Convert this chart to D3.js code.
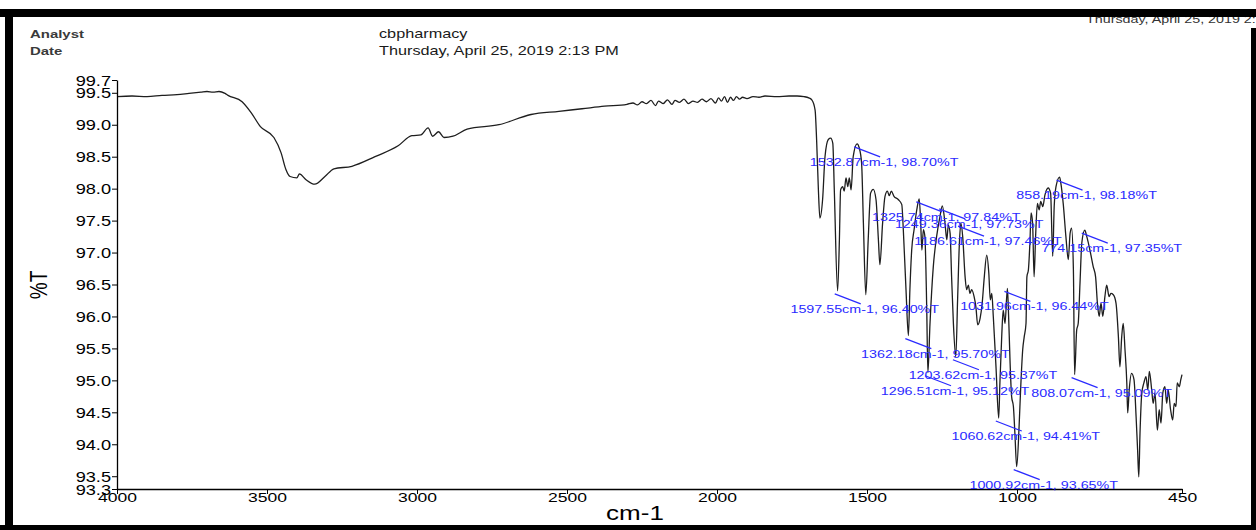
<!DOCTYPE html>
<html>
<head>
<meta charset="utf-8">
<script src="https://cdn.jsdelivr.net/npm/d3@7"></script>
<style>
  html, body { margin: 0; padding: 0; background: #fff; }
  svg { display: block; font-family: "Liberation Sans", Arial, sans-serif; }
</style>
</head>
<body>
<svg id="chart" width="1256" height="530"></svg>
<script>
// ---------------- DATA ----------------
const headerLabels = ["Analyst", "Date"];
const headerValues = ["cbpharmacy", "Thursday, April 25, 2019 2:13 PM"];
const cornerText = "Thursday, April 25, 2019 2:13 PM";

const xTickValues = [4000, 3500, 3000, 2500, 2000, 1500, 1000, 450];
const yTickValues = [99.7, 99.5, 99.0, 98.5, 98.0, 97.5, 97.0, 96.5, 96.0, 95.5, 95.0, 94.5, 94.0, 93.5, 93.3];
const xDomain = [4000, 450];
const yDomain = [93.3, 99.7];
const xTitle = "cm-1";
const yTitle = "%T";

// wavenumber (cm-1)
const wavenumber = [
  4000, 3950, 3900, 3850, 3800, 3760, 3720, 3700, 3680, 3660, 3640, 3630, 3583, 3553, 3522, 3477, 3453, 3437, 3423, 3400,
  3392, 3370, 3341, 3307, 3277, 3217, 3140, 3063, 3017, 2987, 2963, 2948, 2928, 2910, 2880, 2833, 2727, 2620, 2527, 2450,
  2375, 2300, 2280, 2265, 2250, 2235, 2220, 2205, 2195, 2180, 2165, 2150, 2140, 2125, 2110, 2095, 2080, 2065, 2050, 2035,
  2020, 2005, 1995, 1985, 1975, 1965, 1955, 1945, 1935, 1925, 1915, 1900, 1880, 1860, 1840, 1800, 1760, 1733, 1710, 1694,
  1684, 1673, 1668, 1662, 1657, 1648, 1640, 1629, 1621, 1614, 1609, 1598, 1592, 1588, 1581, 1576, 1570, 1564, 1559, 1553,
  1546, 1533, 1526, 1518, 1512, 1504, 1496, 1488, 1479, 1470, 1462, 1457, 1448, 1440, 1432, 1426, 1419, 1410, 1396, 1384,
  1379, 1370, 1362, 1357, 1351, 1343, 1334, 1326, 1321, 1317, 1312, 1307, 1301, 1297, 1290, 1279, 1268, 1257, 1249, 1240,
  1234, 1229, 1223, 1218, 1212, 1204, 1198, 1192, 1187, 1181, 1173, 1168, 1162, 1157, 1151, 1143, 1137, 1131, 1123, 1116,
  1109, 1101, 1094, 1089, 1084, 1079, 1070, 1061, 1057, 1051, 1046, 1040, 1032, 1029, 1023, 1018, 1012, 1007, 1001, 993,
  988, 981, 976, 970, 967, 962, 957, 953, 948, 943, 938, 932, 926, 921, 914, 907, 896, 888, 881, 876,
  870, 858, 854, 846, 837, 829, 823, 818, 812, 808, 801, 796, 790, 784, 774, 768, 757, 746, 738, 732,
  726, 720, 714, 707, 701, 693, 687, 679, 670, 662, 657, 651, 646, 640, 634, 631, 626, 618, 610, 603,
  598, 594, 590, 584, 577, 570, 564, 559, 551, 546, 540, 532, 526, 520, 514, 507, 501, 496, 488, 481,
  476, 470, 466, 459, 454, 450
];
// transmittance (%T)
const transmittance = [
  99.44, 99.45, 99.44, 99.46, 99.47, 99.49, 99.51, 99.52, 99.51, 99.52, 99.49, 99.46, 99.36, 99.19, 98.97, 98.80, 98.56, 98.30, 98.19, 98.17,
  98.23, 98.14, 98.07, 98.19, 98.31, 98.35, 98.50, 98.67, 98.83, 98.84, 98.95, 98.82, 98.89, 98.80, 98.82, 98.93, 99.00, 99.16, 99.21, 99.25,
  99.29, 99.32, 99.34, 99.31, 99.36, 99.33, 99.38, 99.30, 99.37, 99.33, 99.39, 99.32, 99.38, 99.35, 99.40, 99.33, 99.37, 99.35, 99.40, 99.36,
  99.41, 99.34, 99.42, 99.37, 99.44, 99.35, 99.43, 99.38, 99.44, 99.40, 99.43, 99.41, 99.44, 99.43, 99.45, 99.44, 99.45, 99.45, 99.44, 99.42,
  99.39, 99.23, 98.77, 97.98, 97.54, 97.83, 98.50, 98.77, 98.79, 98.71, 97.98, 96.40, 97.20, 97.98, 98.03, 97.96, 98.17, 98.03, 98.17, 97.98,
  98.50, 98.70, 98.64, 98.40, 97.46, 96.34, 97.20, 97.93, 97.99, 97.83, 97.20, 96.81, 97.46, 97.88, 97.96, 97.89, 97.96, 97.88, 97.83, 97.75,
  97.36, 96.42, 95.70, 96.42, 97.04, 97.36, 97.67, 97.84, 97.46, 97.04, 97.36, 97.25, 96.15, 95.12, 95.89, 96.78, 97.25, 97.56, 97.73, 97.46,
  97.20, 97.43, 97.30, 96.62, 95.89, 95.37, 96.26, 97.15, 97.46, 97.25, 96.62, 96.42, 96.49, 96.36, 96.42, 96.31, 96.15, 95.87, 95.97, 96.21,
  96.62, 96.96, 96.68, 96.26, 96.36, 96.00, 95.21, 94.41, 94.96, 95.68, 96.10, 95.89, 96.44, 96.15, 95.27, 94.75, 94.59, 94.17, 93.65, 94.28,
  94.85, 95.48, 95.68, 95.89, 96.62, 96.73, 97.15, 97.62, 97.46, 96.62, 97.25, 97.77, 97.67, 97.80, 97.72, 97.90, 98.01, 97.93, 96.94, 97.72,
  98.03, 98.18, 98.09, 97.77, 97.25, 96.89, 97.30, 97.38, 96.73, 95.09, 95.79, 95.89, 96.52, 97.15, 97.35, 97.26, 97.04, 96.78, 96.62, 96.21,
  96.00, 96.21, 96.00, 96.31, 96.49, 96.31, 96.36, 96.34, 96.21, 95.68, 95.21, 95.68, 95.89, 95.48, 94.96, 94.49, 94.85, 95.11, 95.01, 94.43,
  93.91, 93.49, 94.17, 94.80, 94.96, 95.06, 94.85, 95.14, 94.85, 94.64, 94.80, 94.22, 94.54, 94.33, 94.80, 94.90, 94.64, 94.85, 94.54, 94.38,
  94.64, 94.59, 94.96, 94.90, 95.01, 95.09
];

// peak annotations
const peakWavenumbers = [1532.87, 1325.74, 1249.36, 1186.61, 858.19, 774.15, 1597.55, 1031.96, 1362.18, 1203.62, 1296.51, 808.07, 1060.62, 1000.92];
const peakValues      = [98.70, 97.84, 97.73, 97.46, 98.18, 97.35, 96.40, 96.44, 95.70, 95.37, 95.12, 95.09, 94.41, 93.65];

// ---------------- DRAW ----------------
const svg = d3.select("#chart");
const W = 1256, H = 530;
const SX = 1.3; // horizontal glyph stretch of the original print
const FONT = '"Liberation Sans", Arial, sans-serif';

const x = d3.scaleLinear().domain(xDomain).range([117, 1182]);
const y = d3.scaleLinear().domain(yDomain).range([489, 80]);

// header
const hdr = svg.append("g");
headerLabels.forEach((t, i) => {
  hdr.append("text").attr("transform", `translate(30,${38 + i * 17}) scale(${SX},1)`)
    .attr("font-size", 11.5).attr("font-weight", "bold").attr("fill", "#3a3a3a").text(t);
});
headerValues.forEach((t, i) => {
  hdr.append("text").attr("transform", `translate(379,${38 + i * 17}) scale(${SX},1)`)
    .attr("font-size", 12.5).attr("fill", "#1a1a1a").text(t);
});
svg.append("text").attr("transform", `translate(1086,23) scale(${SX},1)`)
  .attr("font-size", 11).attr("fill", "#333").text(cornerText);

// spectrum
const pts = wavenumber.map((w, i) => [w, transmittance[i]]);
const line = d3.line().x(d => x(d[0])).y(d => y(d[1])).curve(d3.curveMonotoneX);
svg.append("path").datum(pts).attr("d", line)
  .attr("fill", "none").attr("stroke", "#1e1e1e").attr("stroke-width", 1.3).attr("stroke-linejoin", "round");

// axes
const xAxis = d3.axisBottom(x).tickValues(xTickValues).tickSize(5).tickSizeOuter(0).tickFormat(d3.format("d"));
const gx = svg.append("g").attr("transform", "translate(0,489)").call(xAxis);
gx.select(".domain").attr("stroke", "#000").attr("stroke-width", 1.3);
gx.selectAll(".tick line").attr("stroke", "#000");
gx.selectAll(".tick text").attr("font-family", FONT).attr("font-size", 13.5).attr("fill", "#000")
  .attr("y", 13).attr("dy", 0).attr("transform", `scale(${SX},1)`);

const yAxis = d3.axisLeft(y).tickValues(yTickValues).tickSize(5).tickSizeOuter(0).tickFormat(d3.format(".1f"));
const gy = svg.append("g").attr("transform", "translate(117,0)").call(yAxis);
gy.select(".domain").attr("stroke", "#000").attr("stroke-width", 1.3);
gy.selectAll(".tick line").attr("stroke", "#000");
gy.selectAll(".tick text").attr("font-family", FONT).attr("font-size", 14).attr("fill", "#000")
  .attr("x", -4.6).attr("dy", "0.36em").attr("transform", `scale(${SX},1)`);

// axis titles
svg.append("text").attr("transform", `translate(635,520) scale(${SX},1)`)
  .attr("text-anchor", "middle").attr("font-size", 20).attr("fill", "#000").text(xTitle);
svg.append("text").attr("transform", `translate(47,285) scale(${SX},1) rotate(-90)`)
  .attr("text-anchor", "middle").attr("font-size", 19).attr("fill", "#000").text(yTitle);

// peak annotations
const blue = "#2a2aff";
const ann = svg.append("g");
peakWavenumbers.forEach((w, i) => {
  const px = x(w), py = y(peakValues[i]);
  const ex = px + 23, ey = py + 13;
  ann.append("line").attr("x1", px - 3).attr("y1", py + 3).attr("x2", ex).attr("y2", ey)
    .attr("stroke", blue).attr("stroke-width", 1.2);
  ann.append("text").attr("transform", `translate(${ex + 4},${ey + 9}) scale(${SX},1)`)
    .attr("text-anchor", "middle").attr("font-size", 11).attr("fill", blue)
    .text(`${w.toFixed(2)}cm-1, ${peakValues[i].toFixed(2)}%T`);
});

// black print frame
const frame = svg.append("g").attr("fill", "#000");
frame.append("rect").attr("x", 0).attr("y", 9).attr("width", W).attr("height", 8);
frame.append("rect").attr("x", 5).attr("y", 9).attr("width", 8).attr("height", H - 9);
frame.append("rect").attr("x", 0).attr("y", 525).attr("width", W).attr("height", 5);
frame.append("rect").attr("x", 1251).attr("y", 28).attr("width", 5).attr("height", H - 28);
</script>
</body>
</html>
